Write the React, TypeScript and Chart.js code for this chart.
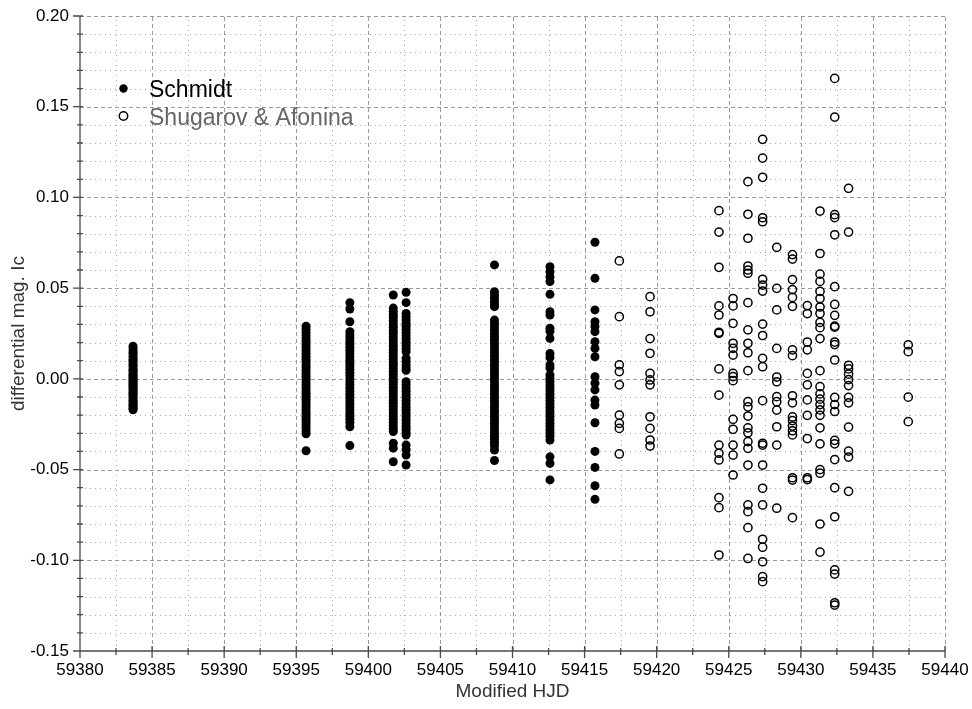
import React, { useEffect, useRef } from 'react';
import { Chart, registerables } from 'chart.js';

Chart.register(...registerables);

const FONT = '"Liberation Sans", Arial, Helvetica, sans-serif';

// Axis ticks (labelled majors)
const xTicks = [59380, 59385, 59390, 59395, 59400, 59405, 59410, 59415, 59420, 59425, 59430, 59435, 59440];
const yTicks = [-0.15, -0.1, -0.05, 0, 0.05, 0.1, 0.15, 0.2];

// Schmidt nights (Modified HJD) and differential magnitudes
const schmidtNights = [59383.68, 59395.68, 59398.72, 59401.73, 59402.62, 59408.75, 59412.6, 59415.72];
const schmidtN1 = [0.018, 0.0165, 0.015, 0.014, 0.0125, 0.011, 0.0102, 0.009, 0.0078, 0.0069, 0.0055, 0.0047, 0.0038, 0.0026, 0.0018, 0.0009, 0.0, -0.0008, -0.0017, -0.0025, -0.0034, -0.0042, -0.0051, -0.006, -0.0071, -0.0079, -0.0088, -0.0097, -0.0106, -0.0118, -0.0127, -0.0138, -0.0146, -0.0155, -0.0163, -0.017];
const schmidtN2 = [0.029, 0.0272, 0.0255, 0.0238, 0.022, 0.0205, 0.0188, 0.0171, 0.0156, 0.014, 0.0124, 0.0108, 0.0093, 0.0076, 0.0061, 0.0045, 0.0029, 0.0014, -0.0002, -0.0018, -0.0033, -0.0049, -0.0065, -0.008, -0.0096, -0.0112, -0.0127, -0.0143, -0.0159, -0.0175, -0.019, -0.0206, -0.0222, -0.0238, -0.0254, -0.027, -0.0287, -0.0303, -0.0396];
const schmidtN3 = [0.042, 0.0385, 0.0315, 0.026, 0.0242, 0.0225, 0.0206, 0.019, 0.0172, 0.0155, 0.0138, 0.012, 0.0103, 0.0086, 0.0069, 0.0052, 0.0035, 0.0018, 0.0, -0.0017, -0.0034, -0.0051, -0.0069, -0.0086, -0.0103, -0.012, -0.0138, -0.0155, -0.0172, -0.019, -0.0207, -0.0224, -0.0242, -0.0264, -0.0368];
const schmidtN4 = [0.0462, 0.039, 0.0372, 0.0355, 0.0338, 0.032, 0.0302, 0.0285, 0.0267, 0.025, 0.0232, 0.0215, 0.0197, 0.018, 0.0162, 0.0145, 0.0127, 0.011, 0.0092, 0.0075, 0.0057, 0.004, 0.0022, 0.0005, -0.0013, -0.003, -0.0048, -0.0065, -0.0083, -0.01, -0.0118, -0.0135, -0.0153, -0.017, -0.0188, -0.0205, -0.0223, -0.024, -0.0258, -0.0275, -0.029, -0.0355, -0.0382, -0.0457];
const schmidtN5 = [0.0477, 0.042, 0.036, 0.0342, 0.0325, 0.0307, 0.029, 0.0272, 0.0255, 0.0237, 0.022, 0.0202, 0.0185, 0.0167, 0.015, 0.0113, 0.0095, 0.0078, 0.006, 0.0047, -0.0016, -0.0033, -0.0051, -0.0068, -0.0086, -0.0103, -0.0121, -0.0138, -0.0156, -0.0173, -0.0191, -0.0208, -0.0226, -0.0243, -0.0261, -0.0278, -0.0296, -0.031, -0.0365, -0.039, -0.042, -0.0475];
const schmidtN6 = [0.0628, 0.048, 0.0462, 0.0444, 0.0426, 0.041, 0.0398, 0.0324, 0.0306, 0.0288, 0.027, 0.0252, 0.0235, 0.0217, 0.0199, 0.0181, 0.0164, 0.0146, 0.0128, 0.011, 0.0093, 0.0075, 0.0057, 0.0039, 0.0022, 0.0004, -0.0014, -0.0032, -0.0049, -0.0067, -0.0085, -0.0103, -0.012, -0.0138, -0.0156, -0.0174, -0.0191, -0.0209, -0.0227, -0.0245, -0.0262, -0.028, -0.0298, -0.0316, -0.0333, -0.0351, -0.0369, -0.0392, -0.045];
const schmidtN7 = [0.0618, 0.059, 0.0562, 0.0536, 0.0466, 0.037, 0.0352, 0.0279, 0.0262, 0.0223, 0.014, 0.0118, 0.0077, 0.006, 0.0022, 0.0004, -0.0014, -0.0032, -0.0049, -0.0067, -0.0085, -0.0103, -0.012, -0.0138, -0.0156, -0.0174, -0.0191, -0.0209, -0.0227, -0.0245, -0.0262, -0.028, -0.0298, -0.0316, -0.0337, -0.043, -0.0466, -0.0557];
const schmidtN8 = [0.0753, 0.0554, 0.038, 0.0315, 0.0288, 0.026, 0.0205, 0.0168, 0.0122, 0.0012, -0.0024, -0.0061, -0.0117, -0.0144, -0.0242, -0.04, -0.0488, -0.0589, -0.0664];

// Shugarov & Afonina nights and differential magnitudes
const shugNights = [59417.41, 59419.54, 59424.32, 59425.3, 59426.33, 59427.35, 59428.33, 59429.42, 59430.45, 59431.33, 59432.35, 59433.31, 59437.45];
const shugN1 = [0.065, 0.0343, 0.0077, 0.004, -0.0033, -0.02, -0.0245, -0.0273, -0.0414];
const shugN2 = [0.0453, 0.037, 0.0222, 0.0141, 0.003, -0.0006, -0.0033, -0.0209, -0.0273, -0.0337, -0.037];
const shugN3 = [0.0927, 0.0809, 0.0615, 0.0402, 0.0352, 0.0257, 0.0251, 0.0055, -0.009, -0.0365, -0.041, -0.0447, -0.0655, -0.071, -0.0971];
const shugN4 = [0.0443, 0.0402, 0.0306, 0.0196, 0.0168, 0.0131, 0.003, 0.0012, -0.001, -0.0223, -0.0278, -0.0365, -0.042, -0.053];
const shugN5 = [0.1087, 0.0907, 0.0775, 0.0622, 0.06, 0.0582, 0.042, 0.027, 0.0196, 0.0144, 0.0045, -0.0126, -0.0154, -0.0205, -0.027, -0.0297, -0.0346, -0.0383, -0.0475, -0.0695, -0.0732, -0.082, -0.099];
const shugN6 = [0.132, 0.1217, 0.1111, 0.0888, 0.0866, 0.0549, 0.0517, 0.0484, 0.0302, 0.0239, 0.0113, 0.0067, -0.012, -0.0355, -0.0365, -0.0475, -0.0603, -0.0695, -0.0884, -0.0928, -0.1008, -0.109, -0.1118];
const shugN7 = [0.0725, 0.0499, 0.038, 0.0168, 0.001, -0.0016, -0.0098, -0.0126, -0.0172, -0.0264, -0.0365, -0.0713];
const shugN8 = [0.0685, 0.066, 0.0547, 0.0492, 0.0449, 0.04, 0.016, 0.0128, -0.0093, -0.0132, -0.021, -0.023, -0.026, -0.0286, -0.0309, -0.0545, -0.0558, -0.0765];
const shugN9 = [0.0404, 0.036, 0.0203, 0.016, 0.003, -0.0033, -0.0116, -0.0201, -0.0329, -0.0545, -0.0555];
const shugN10 = [0.0925, 0.0691, 0.0577, 0.0537, 0.0482, 0.0443, 0.0396, 0.036, 0.0311, 0.0282, 0.0222, 0.0045, -0.0043, -0.0083, -0.0112, -0.0142, -0.0171, -0.0201, -0.027, -0.0358, -0.05, -0.052, -0.08, -0.0955];
const shugN11 = [0.1656, 0.1443, 0.0905, 0.0889, 0.0794, 0.0508, 0.041, 0.035, 0.0291, 0.0285, 0.0203, 0.0189, 0.0104, -0.0102, -0.0142, -0.018, -0.0339, -0.0358, -0.0445, -0.06, -0.076, -0.1053, -0.1076, -0.1234, -0.1247];
const shugN12 = [0.105, 0.0809, 0.0075, 0.0055, 0.0026, -0.0004, -0.0037, -0.0102, -0.0132, -0.0266, -0.0398, -0.0431, -0.062];
const shugN13 = [0.0187, 0.015, -0.0101, -0.0236];

const schmidtMags = [schmidtN1, schmidtN2, schmidtN3, schmidtN4, schmidtN5, schmidtN6, schmidtN7, schmidtN8];
const shugMags = [shugN1, shugN2, shugN3, shugN4, shugN5, shugN6, shugN7, shugN8, shugN9, shugN10, shugN11, shugN12, shugN13];

const toPoints = (nights: number[], mags: number[][]) =>
  nights.flatMap((x, i) => mags[i].map((y) => ({ x, y })));

const xMinor: number[] = [];
for (let i = 0; i < xTicks.length - 1; i++) xMinor.push((xTicks[i] + xTicks[i + 1]) / 2);
const yMinor: number[] = [];
for (let i = 0; i < yTicks.length - 1; i++) {
  for (let k = 1; k < 5; k++) yMinor.push(yTicks[i] + ((yTicks[i + 1] - yTicks[i]) * k) / 5);
}

const gridPlugin = {
  id: 'customGrid',
  beforeDatasetsDraw(chart: any) {
    const { ctx, chartArea, scales } = chart;
    const { left, right, top, bottom } = chartArea;
    const xs = scales.x;
    const ys = scales.y;
    ctx.save();
    ctx.lineWidth = 1;
    // minor dotted grid
    ctx.strokeStyle = '#a8a8a8';
    ctx.setLineDash([1, 4]);
    ctx.beginPath();
    xMinor.forEach((v) => {
      const p = Math.round(xs.getPixelForValue(v)) + 0.5;
      ctx.moveTo(p, bottom);
      ctx.lineTo(p, top);
    });
    yMinor.forEach((v) => {
      const p = Math.round(ys.getPixelForValue(v)) + 0.5;
      ctx.moveTo(left, p);
      ctx.lineTo(right, p);
    });
    ctx.stroke();
    // major dashed grid
    ctx.strokeStyle = '#9a9a9a';
    ctx.setLineDash([4, 3]);
    ctx.beginPath();
    xTicks.slice(1).forEach((v) => {
      const p = Math.round(xs.getPixelForValue(v)) + 0.5;
      ctx.moveTo(p, bottom);
      ctx.lineTo(p, top);
    });
    yTicks.slice(1).forEach((v) => {
      const p = Math.round(ys.getPixelForValue(v)) + 0.5;
      ctx.moveTo(left, p);
      ctx.lineTo(right, p);
    });
    ctx.stroke();
    ctx.restore();
  },
  afterDatasetsDraw(chart: any) {
    const { ctx, chartArea, scales } = chart;
    const { left, right, top, bottom } = chartArea;
    const xs = scales.x;
    const ys = scales.y;
    ctx.save();
    ctx.setLineDash([]);
    ctx.strokeStyle = '#4a4a4a';
    ctx.lineWidth = 1.3;
    ctx.beginPath();
    ctx.moveTo(left, top);
    ctx.lineTo(left, bottom);
    ctx.lineTo(right, bottom);
    // y ticks
    yTicks.forEach((v) => {
      const p = ys.getPixelForValue(v);
      ctx.moveTo(left - 7, p);
      ctx.lineTo(left + 3, p);
    });
    yMinor.forEach((v) => {
      const p = ys.getPixelForValue(v);
      ctx.moveTo(left - 3, p);
      ctx.lineTo(left + 3, p);
    });
    // x ticks
    xTicks.forEach((v) => {
      const p = xs.getPixelForValue(v);
      ctx.moveTo(p, bottom - 5);
      ctx.lineTo(p, bottom + 7);
    });
    xMinor.forEach((v) => {
      const p = xs.getPixelForValue(v);
      ctx.moveTo(p, bottom - 3);
      ctx.lineTo(p, bottom + 4);
    });
    ctx.stroke();

    // legend
    const items = chart.data.datasets;
    const lx = 123.5;
    const rows = [88.5, 116];
    items.forEach((ds: any, i: number) => {
      const cy = rows[i];
      ctx.beginPath();
      ctx.arc(lx, cy, 4.2, 0, Math.PI * 2);
      if (i === 0) {
        ctx.fillStyle = '#000';
        ctx.fill();
      } else {
        ctx.lineWidth = 1.5;
        ctx.strokeStyle = '#000';
        ctx.stroke();
      }
      ctx.font = `23px ${FONT}`;
      ctx.fillStyle = i === 0 ? '#000' : '#666';
      ctx.textBaseline = 'alphabetic';
      ctx.textAlign = 'left';
      ctx.fillText(ds.label, 149, cy + 8.5);
    });
    ctx.restore();
  },
};

export default function App() {
  const ref = useRef<HTMLCanvasElement | null>(null);
  useEffect(() => {
    if (!ref.current) return;
    const chart = new Chart(ref.current, {
      type: 'scatter',
      data: {
        datasets: [
          {
            label: 'Schmidt',
            data: toPoints(schmidtNights, schmidtMags),
            pointRadius: 4.5,
            pointBackgroundColor: '#000',
            pointBorderColor: '#000',
            pointBorderWidth: 0,
          },
          {
            label: 'Shugarov & Afonina',
            data: toPoints(shugNights, shugMags),
            pointRadius: 4.1,
            pointBackgroundColor: 'rgba(0,0,0,0)',
            pointBorderColor: '#000',
            pointBorderWidth: 1.5,
          },
        ],
      },
      options: {
        responsive: false,
        animation: false,
        devicePixelRatio: 1,
        layout: { padding: { left: 0, top: 16, right: 27, bottom: 0 } },
        plugins: { legend: { display: false }, tooltip: { enabled: false } },
        scales: {
          x: {
            type: 'linear',
            min: 59380,
            max: 59440,
            afterBuildTicks: (s: any) => {
              s.ticks = xTicks.map((v) => ({ value: v }));
            },
            afterFit: (s: any) => {
              s.height = 58;
            },
            ticks: {
              font: { family: FONT, size: 17 },
              color: '#000',
              padding: 2,
              maxRotation: 0,
              autoSkip: false,
              callback: (v: any) => String(v),
            },
            grid: { display: true, drawOnChartArea: false, drawTicks: true, tickLength: 7, tickColor: 'rgba(0,0,0,0)' },
            border: { display: false },
            title: {
              display: true,
              text: 'Modified HJD',
              font: { family: FONT, size: 19 },
              color: '#333',
              padding: { top: 2, bottom: 6 },
            },
          },
          y: {
            type: 'linear',
            min: -0.15,
            max: 0.2,
            afterBuildTicks: (s: any) => {
              s.ticks = yTicks.map((v) => ({ value: v }));
            },
            afterFit: (s: any) => {
              s.width = 80;
            },
            ticks: {
              font: { family: FONT, size: 17 },
              color: '#000',
              padding: 4,
              autoSkip: false,
              callback: (v: any) => Number(v).toFixed(2),
            },
            grid: { display: true, drawOnChartArea: false, drawTicks: true, tickLength: 7, tickColor: 'rgba(0,0,0,0)' },
            border: { display: false },
            title: {
              display: true,
              text: 'differential mag. Ic',
              font: { family: FONT, size: 19 },
              color: '#333',
              padding: { top: 7, bottom: 2 },
            },
          },
        },
      },
      plugins: [gridPlugin],
    });
    return () => chart.destroy();
  }, []);
  return (
    <div style={{ position: 'absolute', left: 0, top: 0, width: 972, height: 709, background: '#fff' }}>
      <canvas ref={ref} width={972} height={709} style={{ display: 'block', width: 972, height: 709 }} />
    </div>
  );
}
